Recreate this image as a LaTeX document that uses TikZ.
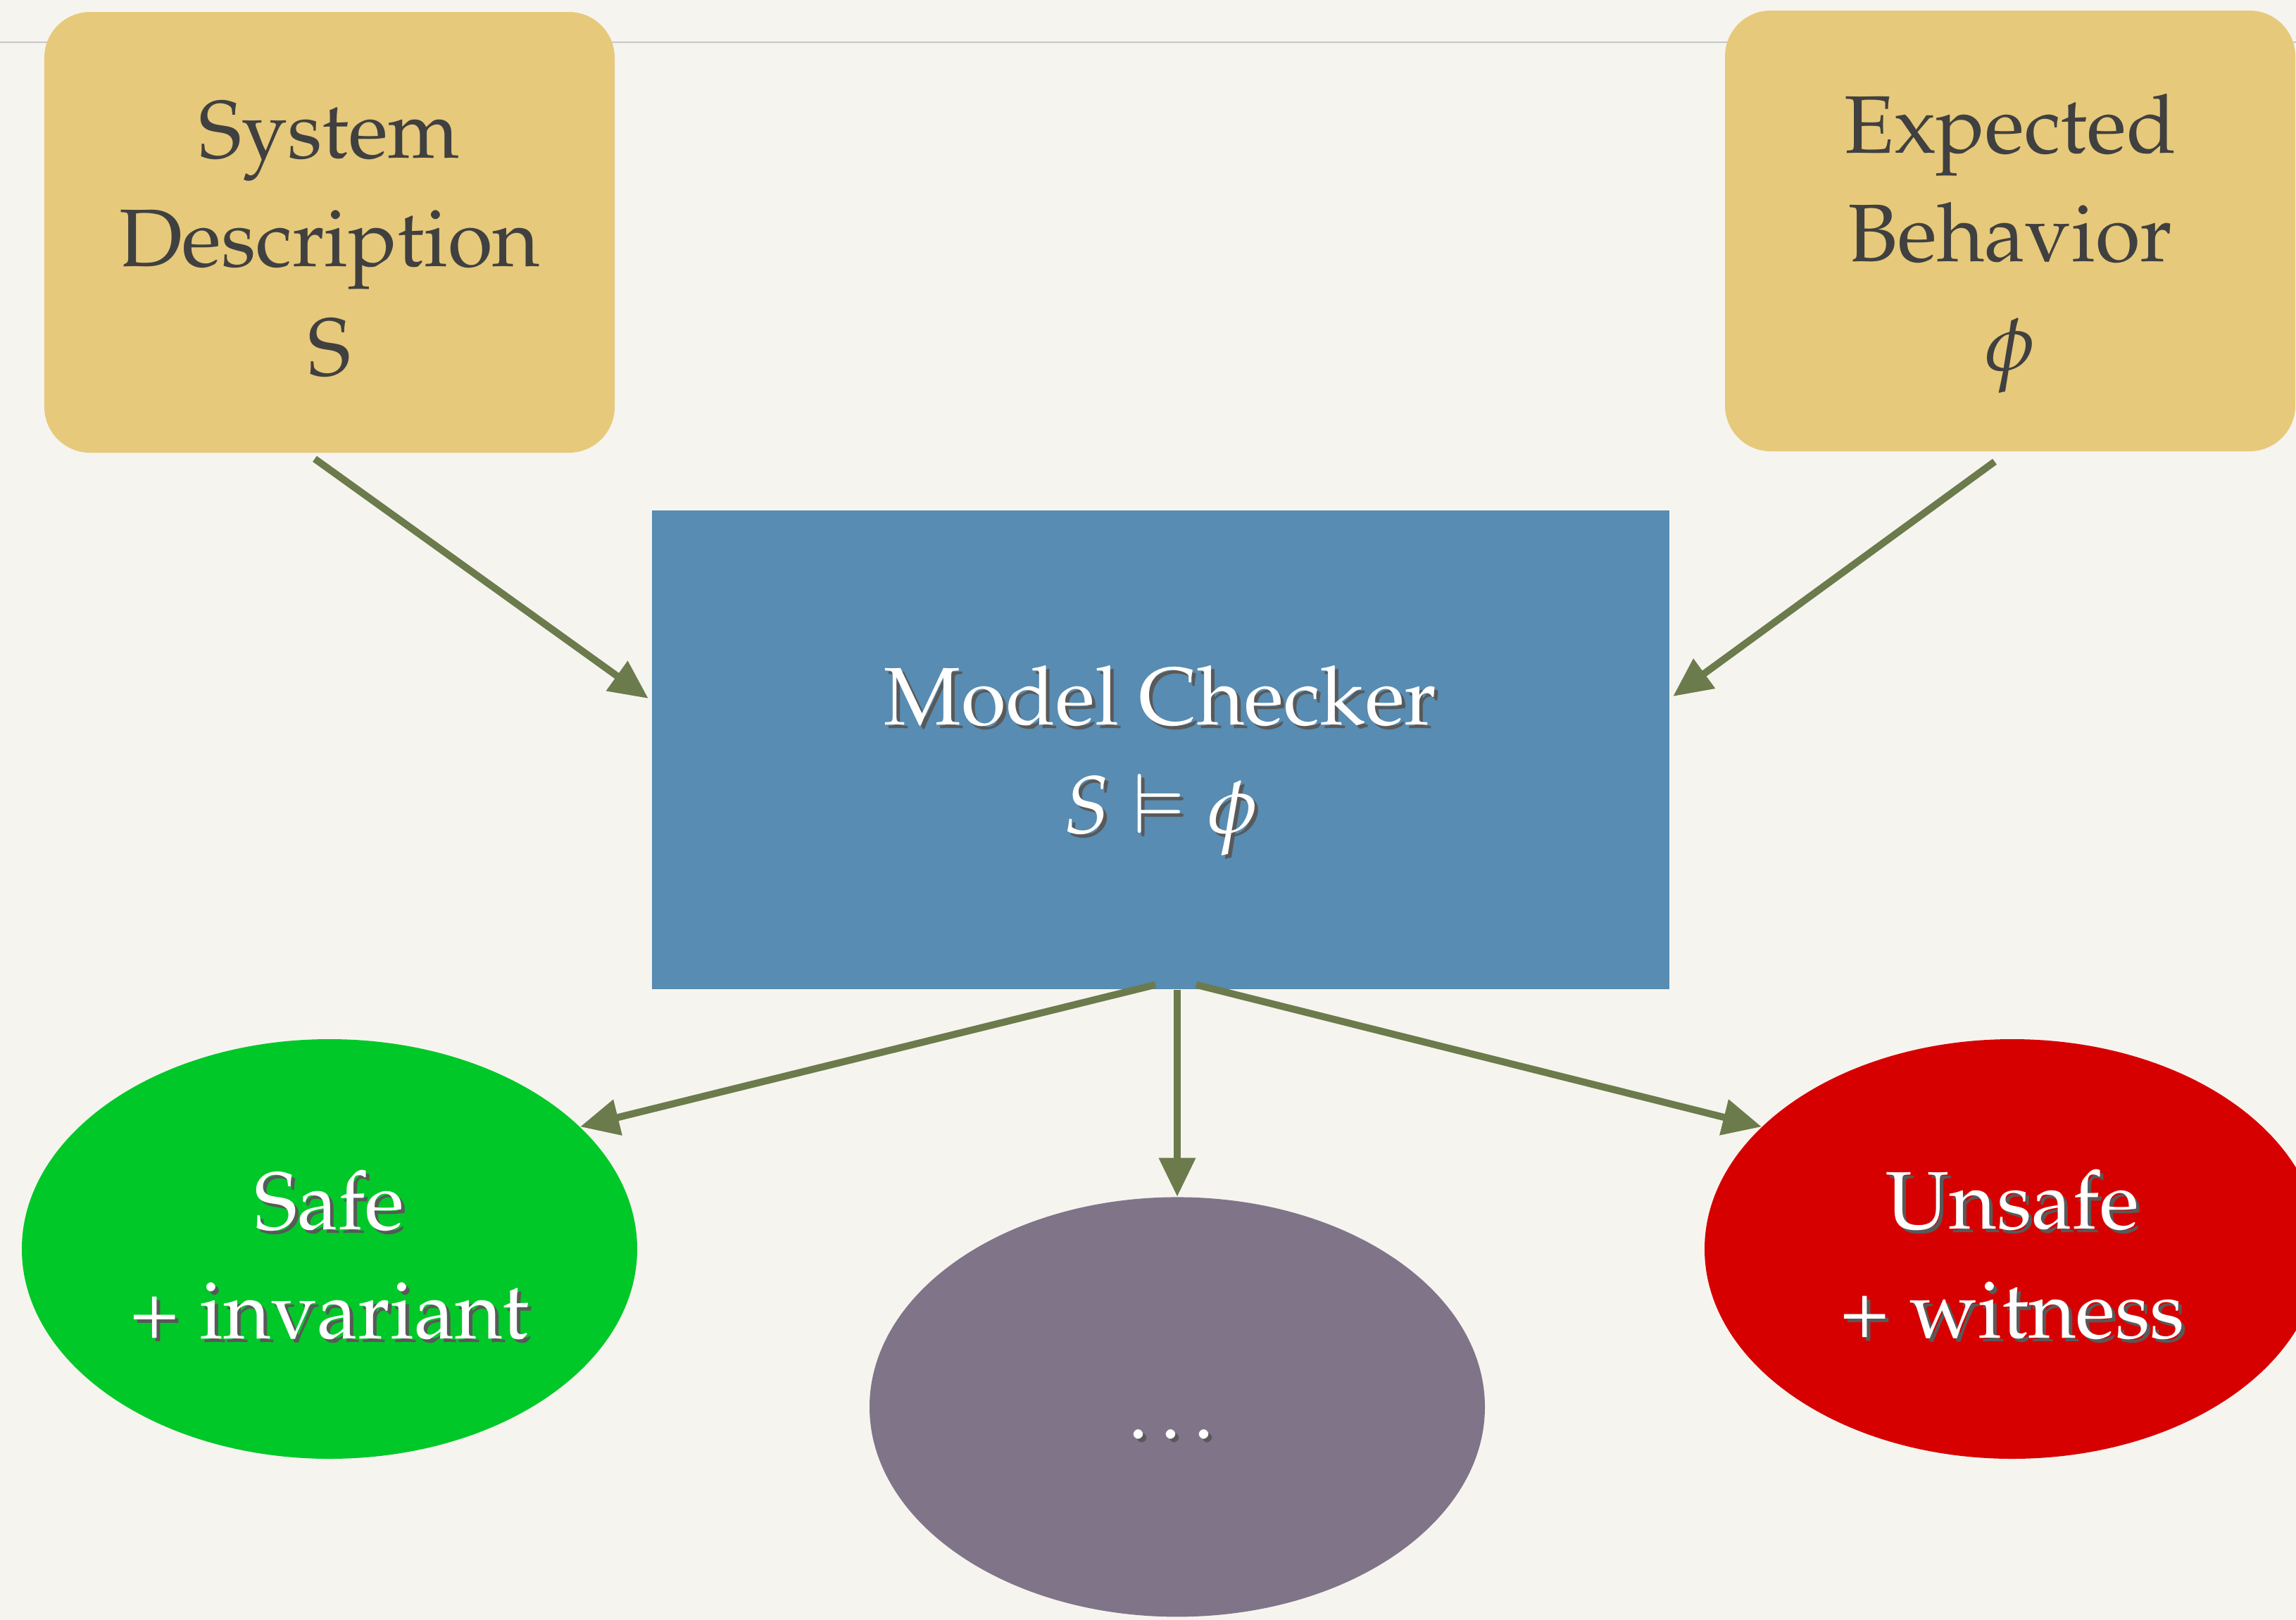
\documentclass[tikz,border=0pt]{standalone}
\usepackage[T1]{fontenc}
\usepackage{mathpazo}
\usepackage{amssymb}
\usetikzlibrary{shapes.geometric, arrows.meta, positioning}
\definecolor{paper}{HTML}{F6F4EF}
\definecolor{papermid}{HTML}{E7E4DD}
\definecolor{sand}{HTML}{E6C97B}
\definecolor{steel}{HTML}{588CB2}
\definecolor{leaf}{HTML}{6B7B4C}
\definecolor{okgreen}{HTML}{00C828}
\definecolor{badred}{HTML}{D70000}
\definecolor{plum}{HTML}{807489}
\definecolor{ink}{HTML}{404040}
\newcommand{\shd}[1]{\makebox[0pt][l]{\raisebox{-0.05cm}{\hspace{0.05cm}\textcolor{black!65}{#1}}}#1}
\newcommand{\tall}[1]{\rule{0pt}{#1}}
\tikzset{
    big/.style={font=\fontsize{33}{44}\selectfont, align=center},
    input/.style={big, rounded corners=0.65cm, fill=sand, text=ink, minimum width=8.1cm, minimum height=6.26cm},
    checker/.style={big, fill=steel, text=white, minimum width=14.45cm, minimum height=6.8cm},
    outcome/.style={big, ellipse, inner sep=0pt, text=white, minimum width=8.74cm, minimum height=5.96cm},
    flow/.style={draw=leaf, line width=0.1cm, -{Triangle[length=0.55cm, width=0.5cm]}}
}
\begin{document}
\begin{tikzpicture}
    \useasboundingbox (0,0) rectangle (32.61,-23);
    \shade[top color=paper, middle color=papermid, bottom color=paper] (0,0) rectangle (32.61,-23);
    \draw[black!22, line width=0.02cm] (0,-0.6) -- (32.61,-0.6);

    \node[input] (sys) at (4.68,-3.30) {\tall{1.0cm}System\\Description\\S};
    \node[input] (exp) at (28.55,-3.28) {\tall{1.2cm}Expected\\Behavior\\$\phi$};
    \node[checker] (mc) at (16.48,-10.65) {\tall{1.2cm}\shd{Model Checker}\\\shd{$S\vDash\phi$}};
    \node[outcome, fill=okgreen] (safe) at (4.68,-17.74) {\tall{1.05cm}\shd{Safe}\\\shd{+ invariant}};
    \node[outcome, fill=badred] (unsafe) at (28.58,-17.74) {\tall{1.05cm}\shd{Unsafe}\\\shd{+ witness}};
    \node[outcome, fill=plum, below=2.94cm of mc, xshift=0.24cm] (dots) {\raisebox{-0.45cm}[0pt][0pt]{\shd{\ldots}}};

    \draw[flow] ([xshift=-0.21cm, yshift=-0.08cm]sys.south) -- ([xshift=-0.04cm, yshift=0.73cm]mc.west);
    \draw[flow] ([xshift=-0.22cm, yshift=-0.14cm]exp.south) -- ([xshift=0.05cm, yshift=0.76cm]mc.east);
    \draw[flow] ([xshift=-0.07cm, yshift=0.07cm]mc.south) -- (safe.26);
    \draw[flow] (mc.south -| dots.north) -- (dots.north);
    \draw[flow] ([xshift=0.51cm, yshift=0.07cm]mc.south) -- (unsafe.154);
\end{tikzpicture}
\end{document}
